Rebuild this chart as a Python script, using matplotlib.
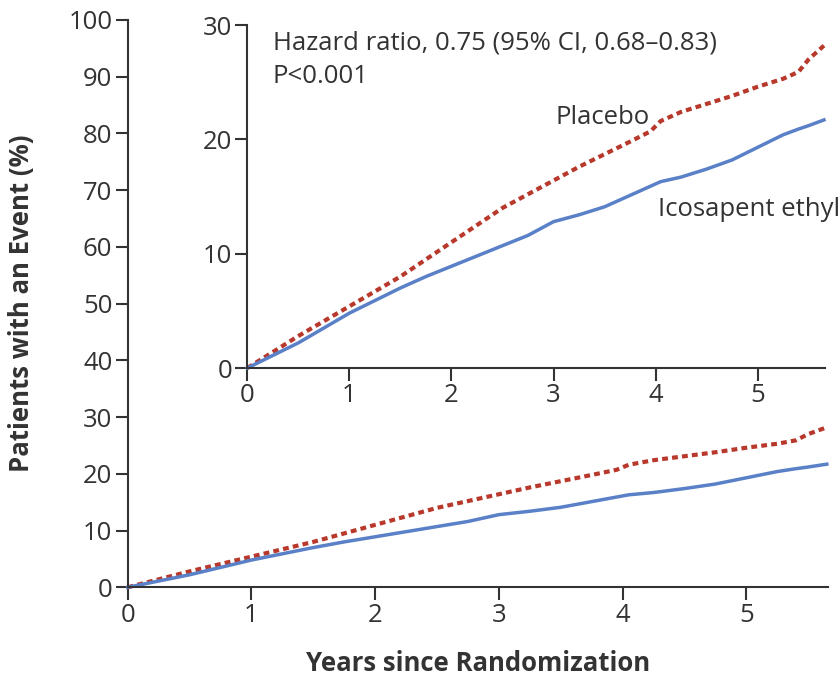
import numpy as np
import matplotlib
matplotlib.use("Agg")
import matplotlib.pyplot as plt

plt.rcParams['font.family'] = ['Open Sans', 'DejaVu Sans']

# cumulative incidence (%)
years = [0, 0.25, 0.5, 0.75, 1.0, 1.25, 1.5, 1.75, 2.0, 2.25, 2.5, 2.75,
         3.0, 3.25, 3.5, 3.75, 3.95, 4.05, 4.25, 4.5, 4.75, 5.0, 5.25, 5.4,
         5.5, 5.65]
placebo = [0, 1.4, 2.8, 4.1, 5.4, 6.7, 8.0, 9.5, 11.0, 12.5, 14.0, 15.2,
           16.4, 17.6, 18.7, 19.8, 20.7, 21.6, 22.4, 23.1, 23.8, 24.6, 25.3, 25.9,
           27.0, 28.2]
icosapent = [0, 1.1, 2.2, 3.5, 4.8, 5.9, 7.0, 8.0, 8.9, 9.8, 10.7, 11.6,
             12.8, 13.4, 14.1, 15.1, 15.9, 16.3, 16.7, 17.4, 18.2, 19.3, 20.4, 20.9,
             21.2, 21.7]

red = '#b8382b'
blue = '#5a80c8'
ink = '#333333'
fs = 18.5

fig = plt.figure(figsize=(8.39, 6.82), dpi=100)


def style(ax, ymax, ystep):
    for s in ['top', 'right']:
        ax.spines[s].set_visible(False)
    for s in ['left', 'bottom']:
        ax.spines[s].set_color(ink)
        ax.spines[s].set_linewidth(1.5)
    ax.set_xlim(0, 5.66)
    ax.set_ylim(0, ymax)
    ax.set_xticks(range(0, 6))
    ax.set_yticks(np.arange(0, ymax + 1, ystep))
    ax.tick_params(direction='out', length=9, width=1.5, color=ink,
                   labelcolor=ink, labelsize=fs, pad=2)
    ax.plot(years, placebo, color=red, lw=3, linestyle=(0, (1.4, 1.0)),
            solid_capstyle='butt', dash_capstyle='butt', clip_on=False)
    ax.plot(years, icosapent, color=blue, lw=2.5, clip_on=False)


# main axes
ax = fig.add_axes([0.1522, 0.1389, 0.8347, 0.8318])
style(ax, 100, 10)
ax.set_xlabel('Years since Randomization', fontsize=18.5, fontweight='bold',
              color=ink, labelpad=16)
ax.set_ylabel('Patients with an Event (%)', fontsize=18.5, fontweight='bold',
              color=ink, labelpad=24)

# inset
ins = fig.add_axes([0.2948, 0.4604, 0.6885, 0.5029])
ins.patch.set_alpha(0)
style(ins, 30, 10)
ins.text(0.25, 28.4, 'Hazard ratio, 0.75 (95% CI, 0.68\u20130.83)',
         fontsize=fs, color=ink, va='center')
ins.text(0.25, 25.5, 'P<0.001', fontsize=fs, color=ink, va='center')
ins.text(3.48, 21.9, 'Placebo', fontsize=fs, color=ink, ha='center', va='center')
ins.text(4.02, 13.9, 'Icosapent ethyl', fontsize=fs, color=ink, va='center',
         clip_on=False)

fig.savefig('out.png', dpi=100)
